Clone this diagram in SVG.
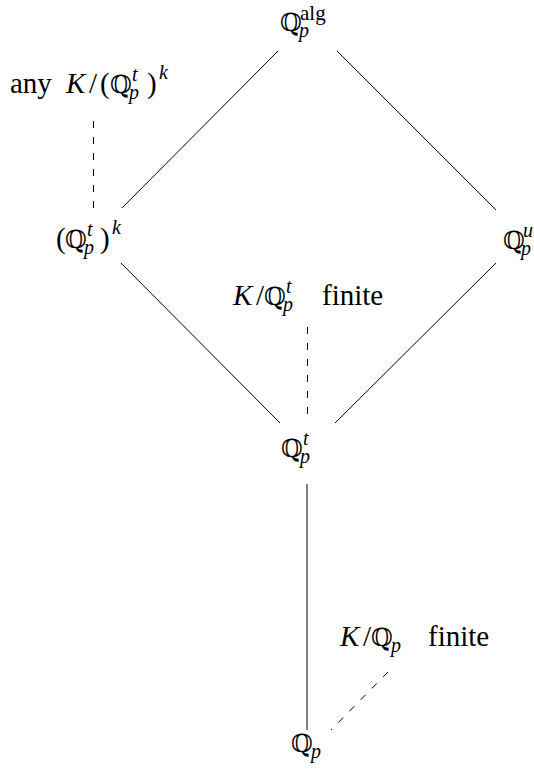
<svg xmlns="http://www.w3.org/2000/svg" width="534" height="769" viewBox="0 0 534 769">
<style>
  .t { font-family: "Liberation Serif", "DejaVu Serif", serif; font-size: 29px; fill: #000; }
  .bb { font-family: "DejaVu Serif", "DejaVu Sans", serif; font-size: 25px; }
  .i { font-style: italic; }
  .s { font-size: 20px; }
  .edge { stroke: #000; stroke-width: 1; fill: none; }
  .dash { stroke-dasharray: 7 9; }
</style>
<rect width="534" height="769" fill="#fff"/>
<g id="connectors">
  <line class="edge" x1="278" y1="51" x2="122" y2="208"/>
  <line class="edge" x1="337" y1="51" x2="496" y2="210"/>
  <line class="edge" x1="121" y1="263" x2="280" y2="423"/>
  <line class="edge" x1="496" y1="263" x2="335" y2="423"/>
  <line class="edge dash" x1="93.5" y1="121" x2="93.5" y2="209"/>
  <line class="edge dash" x1="307.5" y1="327" x2="307.5" y2="423"/>
  <line class="edge" x1="307" y1="484" x2="307" y2="730"/>
  <line class="edge dash" x1="388" y1="672" x2="331" y2="730"/>
</g>
<g id="n-alg">
  <text class="t"><tspan class="bb" x="280" y="31">ℚ</tspan><tspan x="300" y="20" style="font-size:21px">alg</tspan><tspan class="s i" x="299" y="37">p</tspan></text>
</g>
<g id="n-anyK">
  <text class="t"><tspan x="10" y="93">any</tspan><tspan class="i" x="66" y="93">K</tspan><tspan x="89" y="93">/</tspan><tspan x="100" y="93">(</tspan><tspan class="bb" x="110" y="93">ℚ</tspan><tspan class="s i" x="132" y="81">t</tspan><tspan class="s i" x="129" y="99">p</tspan><tspan x="147" y="93">)</tspan><tspan class="s i" x="159" y="79">k</tspan></text>
</g>
<g id="n-Qtk">
  <text class="t"><tspan x="56" y="248">(</tspan><tspan class="bb" x="65" y="248">ℚ</tspan><tspan class="s i" x="87" y="236">t</tspan><tspan class="s i" x="84" y="254">p</tspan><tspan x="100" y="248">)</tspan><tspan class="s i" x="112" y="234">k</tspan></text>
</g>
<g id="n-Qur">
  <text class="t"><tspan class="bb" x="503" y="249">ℚ</tspan><tspan class="s i" x="523" y="237">ur</tspan><tspan class="s i" x="521" y="255">p</tspan></text>
</g>
<g id="n-KQt">
  <text class="t"><tspan class="i" x="233" y="305">K</tspan><tspan x="256" y="305">/</tspan><tspan class="bb" x="264" y="305">ℚ</tspan><tspan class="s i" x="286" y="293">t</tspan><tspan class="s i" x="283" y="311">p</tspan><tspan x="322" y="305">finite</tspan></text>
</g>
<g id="n-Qt">
  <text class="t"><tspan class="bb" x="281" y="457">ℚ</tspan><tspan class="s i" x="303" y="445">t</tspan><tspan class="s i" x="300" y="463">p</tspan></text>
</g>
<g id="n-KQ">
  <text class="t"><tspan class="i" x="340" y="646">K</tspan><tspan x="363" y="646">/</tspan><tspan class="bb" x="371" y="646">ℚ</tspan><tspan class="s i" x="391" y="652">p</tspan><tspan x="428" y="646">finite</tspan></text>
</g>
<g id="n-Qp">
  <text class="t"><tspan class="bb" x="291" y="752">ℚ</tspan><tspan class="s i" x="311" y="758">p</tspan></text>
</g>
</svg>
